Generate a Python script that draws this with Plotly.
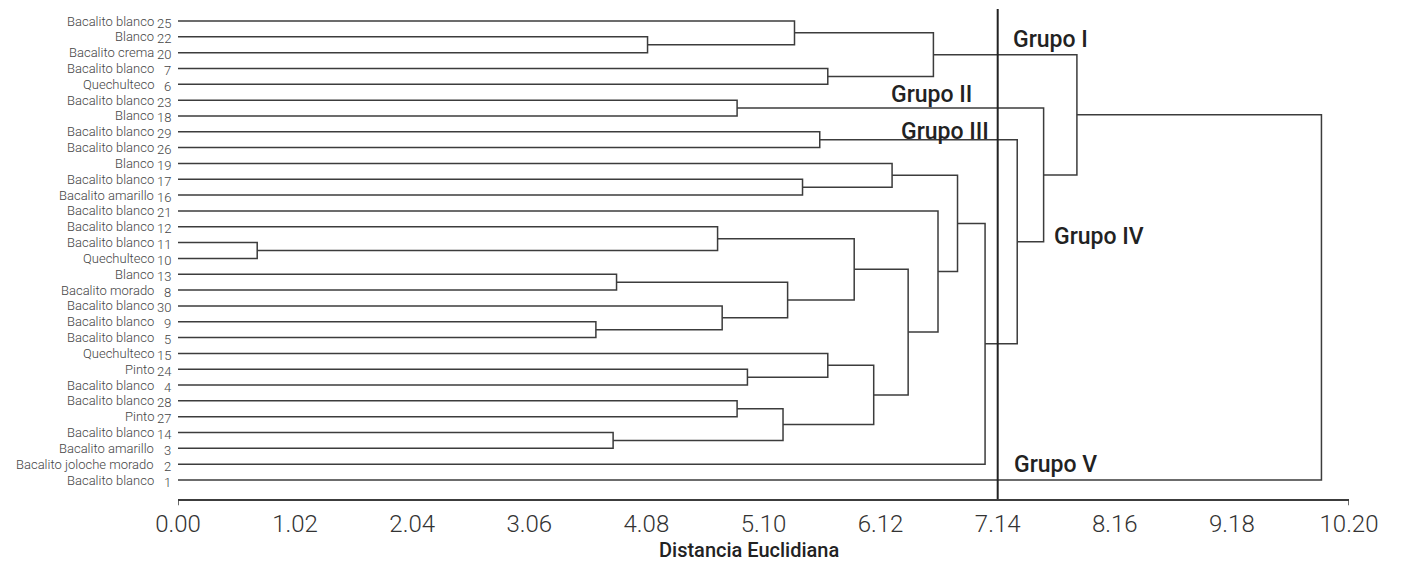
import plotly.graph_objects as go

# ---------------- data ----------------
leaf_numbers = [25, 22, 20, 7, 6, 23, 18, 29, 26, 19, 17, 16, 21, 12, 11, 10,
                13, 8, 30, 9, 5, 15, 24, 4, 28, 27, 14, 3, 2, 1]
leaf_names = ["Bacalito blanco", "Blanco", "Bacalito crema", "Bacalito blanco",
              "Quechulteco", "Bacalito blanco", "Blanco", "Bacalito blanco",
              "Bacalito blanco", "Blanco", "Bacalito blanco", "Bacalito amarillo",
              "Bacalito blanco", "Bacalito blanco", "Bacalito blanco", "Quechulteco",
              "Blanco", "Bacalito morado", "Bacalito blanco", "Bacalito blanco",
              "Bacalito blanco", "Quechulteco", "Pinto", "Bacalito blanco",
              "Bacalito blanco", "Pinto", "Bacalito blanco", "Bacalito amarillo",
              "Bacalito joloche morado", "Bacalito blanco"]

# merges: child a, child b ("L<n>" = leaf number n, "M<k>" = merge k), height
merge_a = ["L11", "L14", "L9", "L13", "L22", "L12", "L30", "L23", "L28", "L24",
           "M8", "M3", "L25", "L17", "L29", "L7", "L15", "M5", "M16", "L19",
           "M17", "M12", "L21", "M19", "M23", "M14", "M7", "M21", "M27"]
merge_b = ["L10", "L3", "L5", "L8", "L20", "M0", "M2", "L18", "L27", "L4",
           "M1", "M6", "M4", "L16", "L26", "L6", "M9", "M11", "M10", "M13",
           "M18", "M15", "M20", "M22", "L2", "M24", "M25", "M26", "L1"]
merge_h = [0.69, 3.79, 3.64, 3.82, 4.09, 4.70, 4.74, 4.87, 4.87, 4.96,
           5.27, 5.31, 5.37, 5.44, 5.59, 5.66, 5.66, 5.89, 6.06, 6.22,
           6.36, 6.58, 6.62, 6.79, 7.03, 7.31, 7.54, 7.83, 9.96]

tick_values = [0.00, 1.02, 2.04, 3.06, 4.08, 5.10, 6.12, 7.14, 8.16, 9.18, 10.20]
tick_labels = ["0.00", "1.02", "2.04", "3.06", "4.08", "5.10", "6.12",
               "7.14", "8.16", "9.18", "10.20"]

cut_height = 7.14

group_labels = ["Grupo I", "Grupo II", "Grupo III", "Grupo IV", "Grupo V"]
group_x = [7.265, 6.202, 6.289, 7.622, 7.274]
group_y = [1.14, 4.67, 6.95, 13.64, 28.05]

# ---------------- build dendrogram ----------------
pos = {f"L{n}": (0.0, float(i)) for i, n in enumerate(leaf_numbers)}
xs, ys = [], []
for k, (a, b, h) in enumerate(zip(merge_a, merge_b, merge_h)):
    ha, ya = pos[a]
    hb, yb = pos[b]
    xs += [ha, h, h, hb, None]
    ys += [ya, ya, yb, yb, None]
    pos[f"M{k}"] = (h, (ya + yb) / 2)

LINE = "#3c3c3c"
fig = go.Figure()
fig.add_trace(go.Scatter(x=xs, y=ys, mode="lines",
                         line=dict(color=LINE, width=1.5),
                         hoverinfo="skip", showlegend=False))

annotations = []
for i, (nm, num) in enumerate(zip(leaf_names, leaf_numbers)):
    annotations.append(dict(x=0, y=i, xref="x", yref="y", text=nm,
                            showarrow=False, xanchor="right", yanchor="middle",
                            xshift=-23, borderpad=0,
                            font=dict(family="Roboto", size=13, color="#444",
                                      weight=300)))
    annotations.append(dict(x=0, y=i, xref="x", yref="y", text=str(num),
                            showarrow=False, xanchor="right", yanchor="middle",
                            xshift=-6, yshift=-2, borderpad=0,
                            font=dict(family="Roboto", size=13, color="#444",
                                      weight=300)))

for lab, gx, gy in zip(group_labels, group_x, group_y):
    annotations.append(dict(x=gx, y=gy, xref="x", yref="y", text=lab,
                            showarrow=False, xanchor="left", yanchor="middle",
                            borderpad=0,
                            font=dict(family="Roboto", size=23, color="#222",
                                      weight=500)))

annotations.append(dict(x=0.4876, y=-0.104, xref="paper", yref="paper",
                        text="Distancia Euclidiana", showarrow=False,
                        xanchor="center", yanchor="middle",
                        font=dict(family="Roboto", size=20, color="#222",
                                  weight=500)))

shapes = [
    dict(type="line", xref="x", yref="paper", x0=cut_height, x1=cut_height,
         y0=0, y1=1, line=dict(color="#222", width=2)),
    dict(type="line", xref="x", yref="paper", x0=tick_values[0], x1=tick_values[0],
         y0=0, y1=-0.0125, line=dict(color=LINE, width=1.5)),
    dict(type="line", xref="x", yref="paper", x0=tick_values[-1], x1=tick_values[-1],
         y0=0, y1=-0.0125, line=dict(color=LINE, width=1.5)),
]

fig.update_layout(
    width=1403, height=566,
    margin=dict(l=170, r=62, t=1, b=75),
    paper_bgcolor="white", plot_bgcolor="white",
    annotations=annotations, shapes=shapes,
    showlegend=False,
    xaxis=dict(range=[0, 10.2], tickvals=tick_values, ticktext=tick_labels,
               showgrid=False, zeroline=False, showline=True,
               linecolor=LINE, linewidth=1.5, ticks="",
               ticklabelstandoff=2,
               tickfont=dict(family="Roboto", size=24, color="#333", weight=300)),
    yaxis=dict(range=[30.2, -0.758], visible=False, showgrid=False,
               zeroline=False),
)

fig.write_html("out.html")
